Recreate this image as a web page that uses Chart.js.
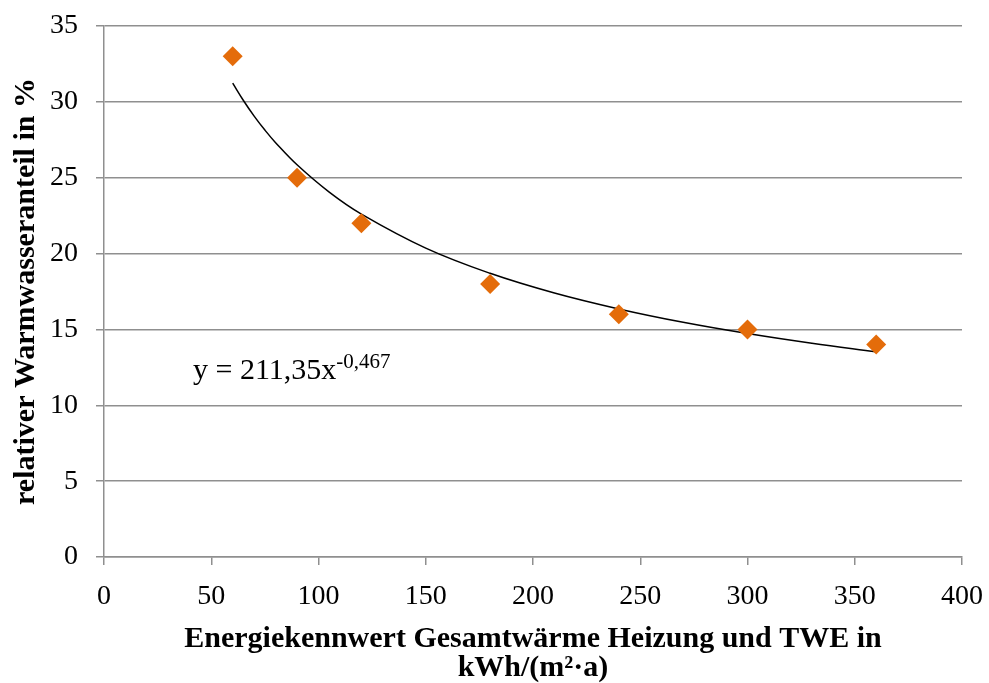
<!DOCTYPE html>
<html>
<head>
    <meta charset="utf-8">
    <title>Warmwasseranteil</title>
    <script src="https://cdn.jsdelivr.net/npm/chart.js"></script>
    <style>
        html, body { margin: 0; padding: 0; background: #ffffff; }
        .chart-container { position: relative; width: 989px; height: 683px; }
    </style>
</head>
<body>
    <div class="chart-container">
        <canvas id="scatterChart"></canvas>
    </div>

<script>
    // measured points
    var energyValues = [60, 90, 120, 180, 240, 300, 360];
    var shareValues = [33, 25, 22, 18, 16, 15, 14];

    // power trendline as drawn in the picture (y = 211,35x^-0,467)
    var trendX = [60, 65, 70, 75, 80, 90, 105, 120, 150, 180, 210, 240, 270, 300, 330, 360];
    var trendY = [31.23, 30.09, 29.06, 28.14, 27.31, 25.85, 24.05, 22.60, 20.36, 18.70, 17.40, 16.35, 15.47, 14.73, 14.09, 13.53];

    var xTicks = [0, 50, 100, 150, 200, 250, 300, 350, 400];
    var yTicks = [0, 5, 10, 15, 20, 25, 30, 35];

    var gridColor = "#8f8f8f";
    var serif = "'Liberation Serif', 'Times New Roman', serif";

    var points = energyValues.map(function(x, i) { return { x: x, y: shareValues[i] }; });
    var trend = trendX.map(function(x, i) { return { x: x, y: trendY[i] }; });

    // draws the trendline equation with a superscript exponent
    var equationLabel = {
        id: "equationLabel",
        afterDatasetsDraw: function(chart) {
            var ctx = chart.ctx;
            var px = chart.scales.x.getPixelForValue(41.5);
            var py = chart.scales.y.getPixelForValue(11.73);
            ctx.save();
            ctx.fillStyle = "#000";
            ctx.textBaseline = "alphabetic";
            ctx.textAlign = "left";
            ctx.font = "30px " + serif;
            var base = "y = 211,35x";
            ctx.fillText(base, px, py);
            var w = ctx.measureText(base).width;
            ctx.font = "21px " + serif;
            ctx.fillText("-0,467", px + w, py - 11);
            ctx.restore();
        }
    };

    new Chart(document.getElementById("scatterChart").getContext("2d"), {
        type: "scatter",
        data: {
            datasets: [
                {
                    label: "Trend",
                    data: trend,
                    showLine: true,
                    borderColor: "#000000",
                    borderWidth: 1.5,
                    pointRadius: 0,
                    tension: 0.4,
                    fill: false,
                    order: 2
                },
                {
                    label: "Warmwasseranteil",
                    data: points,
                    pointStyle: "rectRot",
                    pointRadius: 10,
                    pointBackgroundColor: "#E46C0A",
                    pointBorderColor: "#E46C0A",
                    pointBorderWidth: 0,
                    order: 1
                }
            ]
        },
        options: {
            responsive: true,
            maintainAspectRatio: false,
            animation: false,
            layout: { padding: { top: 26, right: 27, left: 0, bottom: 0 } },
            plugins: {
                legend: { display: false },
                tooltip: { enabled: false }
            },
            scales: {
                x: {
                    type: "linear",
                    min: 0,
                    max: 400,
                    afterBuildTicks: function(axis) {
                        axis.ticks = xTicks.map(function(v) { return { value: v }; });
                    },
                    afterFit: function(axis) {
                        axis.height = 126;
                        axis.paddingLeft = 0;
                        axis.paddingRight = 0;
                    },
                    grid: {
                        drawOnChartArea: false,
                        drawTicks: true,
                        tickLength: 8,
                        color: gridColor,
                        lineWidth: 1.5
                    },
                    border: { display: true, color: gridColor, width: 1.5 },
                    ticks: {
                        color: "#000",
                        padding: 15,
                        maxRotation: 0,
                        font: { family: serif, size: 28 }
                    },
                    title: {
                        display: true,
                        text: ["Energiekennwert Gesamtwärme Heizung und TWE in", "kWh/(m²·a)"],
                        color: "#000",
                        padding: { top: 2, bottom: 1 },
                        font: { family: serif, size: 30, weight: "bold", lineHeight: 0.95 }
                    }
                },
                y: {
                    type: "linear",
                    min: 0,
                    max: 35,
                    afterBuildTicks: function(axis) {
                        axis.ticks = yTicks.map(function(v) { return { value: v }; });
                    },
                    afterFit: function(axis) {
                        axis.width = 104;
                        axis.paddingTop = 0;
                        axis.paddingBottom = 0;
                    },
                    grid: {
                        drawOnChartArea: true,
                        drawTicks: true,
                        tickLength: 8,
                        color: gridColor,
                        lineWidth: 1.5
                    },
                    border: { display: true, color: gridColor, width: 1.5 },
                    ticks: {
                        color: "#000",
                        padding: 18,
                        font: { family: serif, size: 28 }
                    },
                    title: {
                        display: true,
                        text: "relativer Warmwasseranteil in %",
                        color: "#000",
                        padding: { top: 8, bottom: 0 },
                        font: { family: serif, size: 30, weight: "bold" }
                    }
                }
            }
        },
        plugins: [equationLabel]
    });
</script>
</body>
</html>
